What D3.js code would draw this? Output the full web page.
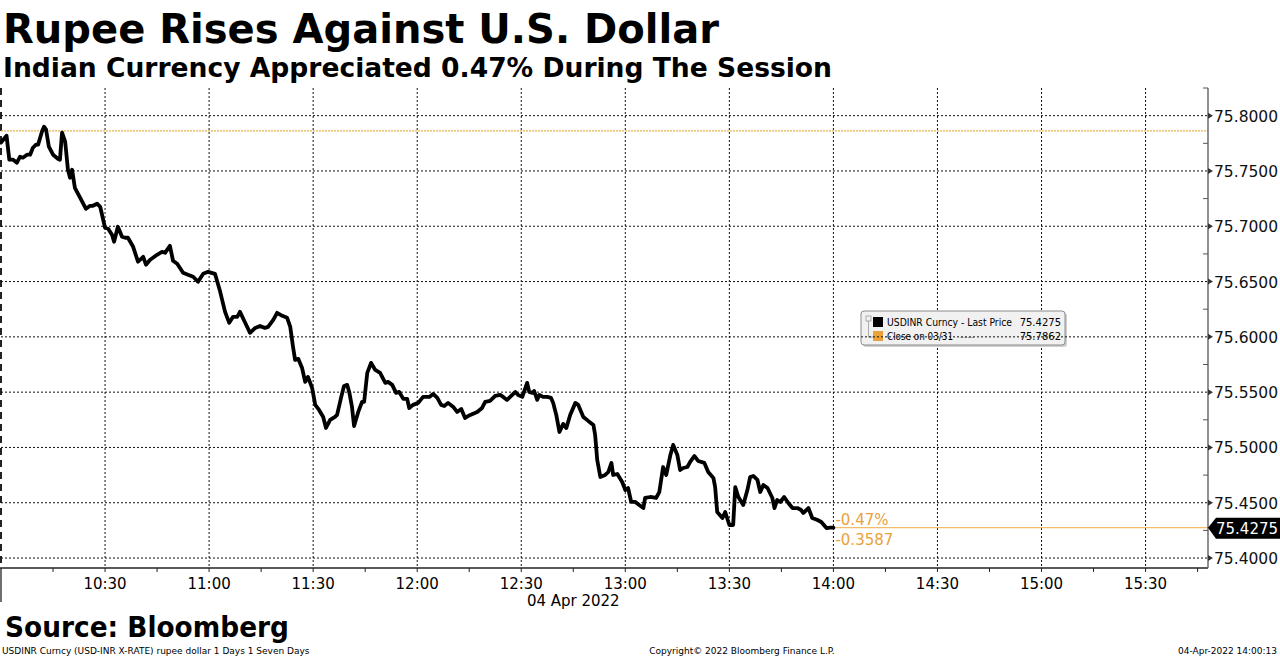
<!DOCTYPE html>
<html>
<head>
<meta charset="utf-8">
<script src="https://cdn.jsdelivr.net/npm/d3@7"></script>
<style>
  body { margin: 0; background: #fff; }
  text { font-family: "DejaVu Sans", Verdana, sans-serif; }
</style>
</head>
<body>
<div id="chart"></div>
<script>
// minutes after 10:00 on 04 Apr 2022, and USDINR last price
const minutes = [
  0, 1.6, 2.4, 3.5, 4.6, 5.5, 6.3, 7.5, 8.4, 9.2, 10.1, 10.7, 11.8, 12.4, 13.0, 13.8, 15.0, 16.4, 17.0, 17.6,
  18.5, 19.3, 19.9, 20.5, 21.3, 22.8, 24.5, 25.7, 26.5, 27.7, 28.6, 30.0, 30.9, 32.0, 32.6, 33.7, 34.9, 35.8, 36.6, 38.1,
  39.5, 41.0, 41.8, 43.0, 45.0, 46.4, 47.3, 48.7, 49.6, 50.8, 52.5, 53.9, 55.4, 56.8, 58.3, 59.7, 61.7, 63.2, 64.6, 65.8,
  66.9, 68.1, 68.9, 70.4, 71.8, 73.3, 74.7, 76.1, 77.0, 78.5, 79.6, 81.1, 82.5, 83.4, 84.2, 84.8, 85.7, 86.8, 87.7, 88.5,
  89.7, 90.6, 91.7, 92.9, 93.7, 94.9, 96.3, 96.9, 98.1, 98.9, 99.8, 100.4, 101.2, 101.8, 103.0, 104.1, 104.7, 105.6, 106.7, 107.9,
  109.3, 110.8, 111.6, 112.8, 113.9, 114.8, 116.0, 117.1, 117.7, 118.8, 120.3, 121.7, 123.5, 124.6, 125.8, 126.9, 127.8, 128.9, 130.4, 131.5,
  132.7, 133.8, 135.3, 137.3, 138.7, 139.6, 141.0, 142.5, 143.9, 144.8, 145.9, 146.8, 148.3, 149.1, 150.3, 150.9, 151.7, 152.3, 153.2, 153.7,
  154.6, 155.2, 156.3, 157.5, 158.6, 159.2, 160.1, 161.0, 162.1, 163.0, 164.1, 165.6, 166.4, 167.9, 169.3, 170.8, 171.3, 171.9, 172.8, 174.2,
  175.1, 176.0, 176.5, 177.7, 179.1, 180.0, 180.8, 181.7, 182.9, 184.0, 185.2, 185.7, 187.2, 188.9, 189.8, 190.9, 191.8, 193.0, 193.8, 195.0,
  195.8, 196.7, 197.9, 198.7, 199.9, 201.0, 202.8, 203.9, 205.4, 205.9, 206.5, 208.0, 208.8, 210.0, 211.1, 211.7, 212.6, 214.0, 215.2, 216.0,
  216.9, 218.1, 218.9, 219.8, 221.0, 222.4, 223.0, 223.8, 224.7, 225.8, 227.0, 228.2, 229.6, 230.7, 231.3, 232.8, 233.9, 235.4, 236.5, 238.0,
  239.1, 240.0
];
const prices = [
  75.7756, 75.7819, 75.7602, 75.7602, 75.7575, 75.7629, 75.7620, 75.7647, 75.7647, 75.7710, 75.7738, 75.7738, 75.7855, 75.7900, 75.7873, 75.7719, 75.7647, 75.7611, 75.7602, 75.7846,
  75.7765, 75.7511, 75.7439, 75.7511, 75.7348, 75.7258, 75.7158, 75.7185, 75.7185, 75.7204, 75.7176, 75.6986, 75.6977, 75.6923, 75.6860, 75.6995, 75.6905, 75.6896, 75.6896, 75.6814,
  75.6679, 75.6724, 75.6652, 75.6697, 75.6742, 75.6769, 75.6760, 75.6823, 75.6688, 75.6661, 75.6579, 75.6561, 75.6543, 75.6498, 75.6570, 75.6588, 75.6570, 75.6407, 75.6226, 75.6127,
  75.6181, 75.6181, 75.6226, 75.6127, 75.6036, 75.6081, 75.6099, 75.6081, 75.6090, 75.6154, 75.6217, 75.6190, 75.6172, 75.6090, 75.5909, 75.5792, 75.5801, 75.5719, 75.5593, 75.5638,
  75.5538, 75.5385, 75.5339, 75.5276, 75.5176, 75.5249, 75.5276, 75.5294, 75.5457, 75.5556, 75.5566, 75.5502, 75.5366, 75.5194, 75.5321, 75.5412, 75.5412, 75.5674, 75.5765, 75.5701,
  75.5674, 75.5584, 75.5593, 75.5566, 75.5493, 75.5502, 75.5439, 75.5439, 75.5357, 75.5385, 75.5403, 75.5457, 75.5457, 75.5484, 75.5448, 75.5385, 75.5375, 75.5403, 75.5366, 75.5321,
  75.5348, 75.5267, 75.5294, 75.5321, 75.5357, 75.5412, 75.5421, 75.5466, 75.5475, 75.5457, 75.5430, 75.5457, 75.5502, 75.5475, 75.5457, 75.5511, 75.5584, 75.5502, 75.5493, 75.5511,
  75.5430, 75.5475, 75.5457, 75.5457, 75.5448, 75.5403, 75.5294, 75.5140, 75.5213, 75.5176, 75.5294, 75.5403, 75.5385, 75.5276, 75.5240, 75.5204, 75.5113, 75.4887, 75.4733, 75.4751,
  75.4778, 75.4860, 75.4751, 75.4760, 75.4688, 75.4615, 75.4633, 75.4507, 75.4507, 75.4480, 75.4452, 75.4543, 75.4552, 75.4543, 75.4597, 75.4823, 75.4751, 75.4932, 75.5023, 75.4932,
  75.4796, 75.4814, 75.4823, 75.4869, 75.4923, 75.4878, 75.4860, 75.4778, 75.4724, 75.4642, 75.4416, 75.4362, 75.4416, 75.4299, 75.4299, 75.4642, 75.4552, 75.4480, 75.4615, 75.4733,
  75.4742, 75.4706, 75.4597, 75.4661, 75.4633, 75.4543, 75.4452, 75.4525, 75.4507, 75.4552, 75.4498, 75.4452, 75.4452, 75.4434, 75.4407, 75.4452, 75.4362, 75.4344, 75.4326, 75.4271,
  75.4275, 75.4275
];
const yTicks = [75.40, 75.45, 75.50, 75.55, 75.60, 75.65, 75.70, 75.75, 75.80];
const xTickLabels = ["10:30", "11:00", "11:30", "12:00", "12:30", "13:00", "13:30", "14:00", "14:30", "15:00", "15:30"];
const prevClose = 75.7862;
const lastPrice = 75.4275;
const changePct = "-0.47%";
const changeAbs = "-0.3587";

const width = 1280, height = 658;
const pL = 1, pR = 1208, pT = 88, pB = 568;
const orange = "#e9a23b";

const day = new Date(2022, 3, 4, 10, 0);
const at = m => new Date(day.getTime() + m * 60000);
const parseHM = s => { const [h, m] = s.split(":").map(Number); return at((h - 10) * 60 + m); };
const data = minutes.map((m, i) => ({ t: at(m), v: prices[i] }));

const x = d3.scaleTime().domain([at(0), at(348)]).range([pL, pR]);
const y = d3.scaleLinear().domain([75.391, 75.825]).range([pB, pT]);

const svg = d3.select("#chart").append("svg")
  .attr("width", width).attr("height", height)
  .attr("viewBox", `0 0 ${width} ${height}`);

// titles
svg.append("text").attr("x", 3).attr("y", 43)
  .attr("textLength", 716).attr("lengthAdjust", "spacingAndGlyphs")
  .style("font-size", "40px").style("font-weight", "bold").text("Rupee Rises Against U.S. Dollar");
svg.append("text").attr("x", 3).attr("y", 77)
  .attr("textLength", 829).attr("lengthAdjust", "spacingAndGlyphs")
  .style("font-size", "26px").style("font-weight", "bold").text("Indian Currency Appreciated 0.47% During The Session");

// vertical grid, every 30 minutes
const xMajor = xTickLabels.map(parseHM);
svg.append("g").selectAll("line").data(xMajor).enter().append("line")
  .attr("x1", d => x(d)).attr("x2", d => x(d))
  .attr("y1", pT).attr("y2", pB)
  .style("stroke", "#111").style("stroke-width", 1).style("stroke-dasharray", "2,2");

// session start marker
svg.append("line").attr("x1", x(at(0))).attr("x2", x(at(0)))
  .attr("y1", pT).attr("y2", pB)
  .style("stroke", "#222").style("stroke-width", 2).style("stroke-dasharray", "7,5");

// legend
const lg = svg.append("g").attr("transform", "translate(861,311)");
lg.append("rect").attr("x", 2).attr("y", 2).attr("width", 204).attr("height", 34).attr("rx", 3)
  .style("fill", "#cfcfcf");
lg.append("rect").attr("width", 204).attr("height", 34).attr("rx", 3)
  .style("fill", "#f1f1f1").style("stroke", "#8c8c8c");
lg.append("rect").attr("x", 5).attr("y", 5).attr("width", 5).attr("height", 5)
  .style("fill", "none").style("stroke", "#999").style("stroke-width", 0.8);
lg.append("path").attr("d", "M7.5,10 V26 H12").style("fill", "none").style("stroke", "#999").style("stroke-width", 0.8);
lg.append("rect").attr("x", 12).attr("y", 6).attr("width", 10).attr("height", 10).style("fill", "#000");
lg.append("rect").attr("x", 12).attr("y", 20).attr("width", 10).attr("height", 10).style("fill", orange);
lg.append("text").attr("x", 26).attr("y", 15).attr("textLength", 125).attr("lengthAdjust", "spacingAndGlyphs")
  .style("font-size", "10px").text("USDINR Curncy - Last Price");
lg.append("text").attr("x", 200).attr("y", 15).attr("text-anchor", "end").style("font-size", "10px").text(lastPrice.toFixed(4));
lg.append("text").attr("x", 26).attr("y", 29).attr("textLength", 66).attr("lengthAdjust", "spacingAndGlyphs")
  .style("font-size", "10px").text("Close on 03/31");
lg.append("text").attr("x", 99).attr("y", 29).style("font-size", "10px").style("fill", "#999").text("----");
lg.append("text").attr("x", 200).attr("y", 29).attr("text-anchor", "end").style("font-size", "10px").text(prevClose.toFixed(4));

// horizontal grid
svg.append("g").selectAll("line").data(yTicks).enter().append("line")
  .attr("x1", pL).attr("x2", pR)
  .attr("y1", d => y(d)).attr("y2", d => y(d))
  .style("stroke", "#111").style("stroke-width", 1).style("stroke-dasharray", "2,2");

// previous close reference
svg.append("line").attr("x1", pL).attr("x2", pR)
  .attr("y1", y(prevClose)).attr("y2", y(prevClose))
  .style("stroke", "#e3b24a").style("stroke-width", 1.2).style("stroke-dasharray", "2,1");

// last price guide from the last point to the axis
const lastT = data[data.length - 1].t;
svg.append("line").attr("x1", x(lastT)).attr("x2", pR)
  .attr("y1", y(lastPrice)).attr("y2", y(lastPrice))
  .style("stroke", "#f2bd6a").style("stroke-width", 1.2);

svg.append("text").attr("x", x(lastT) + 2).attr("y", y(lastPrice) - 3)
  .style("font-size", "15px").style("fill", orange).text(changePct);
svg.append("text").attr("x", x(lastT) + 2).attr("y", y(lastPrice) + 17)
  .style("font-size", "15px").style("fill", orange).text(changeAbs);

// price line
const line = d3.line().x(d => x(d.t)).y(d => y(d.v));
svg.append("path").datum(data).attr("d", line)
  .style("fill", "none").style("stroke", "#000").style("stroke-width", 3.8)
  .style("stroke-linejoin", "round").style("stroke-linecap", "round");

// x axis
svg.append("line").attr("x1", 0).attr("x2", pR).attr("y1", pB).attr("y2", pB)
  .style("stroke", "#222").style("stroke-width", 1.3);
svg.append("line").attr("x1", 1).attr("x2", 1).attr("y1", pB).attr("y2", 602)
  .style("stroke", "#222").style("stroke-width", 1.3);
const xMinor = d3.timeMinute.every(15).range(at(15), at(348));
svg.append("g").selectAll("line").data(xMinor).enter().append("line")
  .attr("x1", d => x(d)).attr("x2", d => x(d))
  .attr("y1", pB).attr("y2", pB + 4)
  .style("stroke", "#222");
svg.append("g").selectAll("text").data(xTickLabels).enter().append("text")
  .attr("x", d => x(parseHM(d))).attr("y", 589)
  .attr("text-anchor", "middle").style("font-size", "15px")
  .text(d => d);
svg.append("text").attr("x", x(parseHM("12:45"))).attr("y", 606)
  .attr("text-anchor", "middle").style("font-size", "15px").text("04 Apr 2022");

// y axis on the right
svg.append("line").attr("x1", pR).attr("x2", pR).attr("y1", pT).attr("y2", pB)
  .style("stroke", "#555").style("stroke-width", 1.3);
const yMinor = d3.range(75.425, 75.826, 0.05);
svg.append("g").selectAll("line").data(yMinor).enter().append("line")
  .attr("x1", pR - 5).attr("x2", pR)
  .attr("y1", d => y(d)).attr("y2", d => y(d))
  .style("stroke", "#555");
svg.append("g").selectAll("path").data(yTicks).enter().append("path")
  .attr("d", d => `M${pR},${y(d) - 3}L${pR + 5},${y(d)}L${pR},${y(d) + 3}Z`)
  .style("fill", "#333");
svg.append("g").selectAll("text").data(yTicks).enter().append("text")
  .attr("x", pR + 6).attr("y", d => y(d) + 6)
  .style("font-size", "15.5px").style("fill", "#111")
  .text(d => d.toFixed(4));

// last price tag
const ly = y(lastPrice);
svg.append("path")
  .attr("d", `M${pR},${ly}L${pR + 8},${ly - 10}H1280V${ly + 11}H${pR + 8}Z`)
  .style("fill", "#000");
svg.append("text").attr("x", pR + 8).attr("y", ly + 6)
  .attr("textLength", 62).attr("lengthAdjust", "spacingAndGlyphs")
  .style("font-size", "15.5px").style("fill", "#fff").text(lastPrice.toFixed(4));

// source and footer
svg.append("text").attr("x", 5).attr("y", 637)
  .attr("textLength", 284).attr("lengthAdjust", "spacingAndGlyphs")
  .style("font-size", "29px").style("font-weight", "bold").text("Source: Bloomberg");
svg.append("text").attr("x", 2).attr("y", 654).style("font-size", "9px")
  .text("USDINR Curncy (USD-INR X-RATE) rupee dollar 1 Days 1 Seven Days");
svg.append("text").attr("x", 742).attr("y", 654).attr("text-anchor", "middle").style("font-size", "9px")
  .text("Copyright\u00a9 2022 Bloomberg Finance L.P.");
svg.append("text").attr("x", 1277).attr("y", 654).attr("text-anchor", "end").style("font-size", "9px")
  .text("04-Apr-2022 14:00:13");
</script>
</body>
</html>
